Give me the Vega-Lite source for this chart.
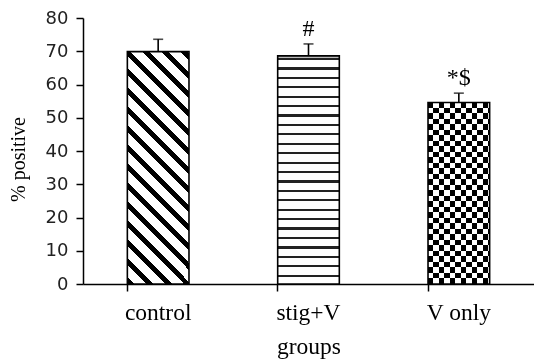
{
  "$schema": "https://vega.github.io/schema/vega-lite/v6.json",
  "width": 451,
  "height": 266,
  "autosize": "none",
  "padding": {"left": 83, "top": 18, "right": 0, "bottom": 75},
  "background": "white",
  "config": {
    "view": {"stroke": null},
    "axis": {"grid": false, "domainColor": "#000", "domainWidth": 1.5, "tickColor": "#000", "tickWidth": 1.5, "tickSize": 7, "titleFontWeight": "normal", "titleColor": "#000"},
    "axisY": {
      "tickCount": 8, "labelOverlap": false,
      "labelFont": "DejaVu Sans", "labelFontSize": 18, "labelColor": "#222", "labelPadding": 8,
      "titleFont": "Liberation Serif", "titleFontSize": 20,
      "titleX": -65, "titleY": 141, "titleAngle": -90, "titleBaseline": "middle", "titleAlign": "center"
    },
    "axisX": {
      "labelAngle": 0, "bandPosition": 0,
      "labelFont": "Liberation Serif", "labelFontSize": 23.5, "labelColor": "#000", "labelPadding": 9,
      "titleFont": "Liberation Serif", "titleFontSize": 23.5, "titleY": 50, "titleBaseline": "top"
    }
  },
  "data": {"values": [
    {"group": "control", "value": 69.9, "upper": 73.6, "sig": ""},
    {"group": "stig+V", "value": 68.6, "upper": 72.2, "sig": "#"},
    {"group": "V only", "value": 54.6, "upper": 57.4, "sig": "*$"}
  ]},
  "encoding": {
    "x": {
      "field": "group", "type": "nominal", "sort": null, "title": "groups",
      "scale": {"paddingInner": 0.59, "paddingOuter": 0.295}
    }
  },
  "layer": [
    {
      "transform": [{"filter": "datum.group == 'control'"}],
      "mark": {"type": "bar", "fill": {"gradient": "linear", "x1": 0, "y1": 1, "x2": 0.3161, "y2": -0.1828, "stops": [
        {"offset": 0, "color": "#000"}, {"offset": 0.0238, "color": "#000"}, {"offset": 0.0238, "color": "#fff"}, {"offset": 0.0646, "color": "#fff"},
        {"offset": 0.0646, "color": "#000"}, {"offset": 0.0884, "color": "#000"}, {"offset": 0.0884, "color": "#fff"}, {"offset": 0.1292, "color": "#fff"},
        {"offset": 0.1292, "color": "#000"}, {"offset": 0.1530, "color": "#000"}, {"offset": 0.1530, "color": "#fff"}, {"offset": 0.1938, "color": "#fff"},
        {"offset": 0.1938, "color": "#000"}, {"offset": 0.2176, "color": "#000"}, {"offset": 0.2176, "color": "#fff"}, {"offset": 0.2584, "color": "#fff"},
        {"offset": 0.2584, "color": "#000"}, {"offset": 0.2822, "color": "#000"}, {"offset": 0.2822, "color": "#fff"}, {"offset": 0.3230, "color": "#fff"},
        {"offset": 0.3230, "color": "#000"}, {"offset": 0.3468, "color": "#000"}, {"offset": 0.3468, "color": "#fff"}, {"offset": 0.3876, "color": "#fff"},
        {"offset": 0.3876, "color": "#000"}, {"offset": 0.4114, "color": "#000"}, {"offset": 0.4114, "color": "#fff"}, {"offset": 0.4522, "color": "#fff"},
        {"offset": 0.4522, "color": "#000"}, {"offset": 0.4760, "color": "#000"}, {"offset": 0.4760, "color": "#fff"}, {"offset": 0.5168, "color": "#fff"},
        {"offset": 0.5168, "color": "#000"}, {"offset": 0.5406, "color": "#000"}, {"offset": 0.5406, "color": "#fff"}, {"offset": 0.5814, "color": "#fff"},
        {"offset": 0.5814, "color": "#000"}, {"offset": 0.6052, "color": "#000"}, {"offset": 0.6052, "color": "#fff"}, {"offset": 0.6460, "color": "#fff"},
        {"offset": 0.6460, "color": "#000"}, {"offset": 0.6698, "color": "#000"}, {"offset": 0.6698, "color": "#fff"}, {"offset": 0.7106, "color": "#fff"},
        {"offset": 0.7106, "color": "#000"}, {"offset": 0.7344, "color": "#000"}, {"offset": 0.7344, "color": "#fff"}, {"offset": 0.7752, "color": "#fff"},
        {"offset": 0.7752, "color": "#000"}, {"offset": 0.7990, "color": "#000"}, {"offset": 0.7990, "color": "#fff"}, {"offset": 0.8398, "color": "#fff"},
        {"offset": 0.8398, "color": "#000"}, {"offset": 0.8636, "color": "#000"}, {"offset": 0.8636, "color": "#fff"}, {"offset": 0.9044, "color": "#fff"},
        {"offset": 0.9044, "color": "#000"}, {"offset": 0.9282, "color": "#000"}, {"offset": 0.9282, "color": "#fff"}, {"offset": 0.9690, "color": "#fff"},
        {"offset": 0.9690, "color": "#000"}, {"offset": 0.9928, "color": "#000"}, {"offset": 0.9928, "color": "#fff"}, {"offset": 1, "color": "#fff"}
      ]}},
      "encoding": {
        "y": {"field": "value", "type": "quantitative", "title": "% positive", "scale": {"domain": [0, 80]}}
      }
    },
    {
      "transform": [{"filter": "datum.group == 'stig+V'"}],
      "mark": {"type": "bar", "fill": {"gradient": "linear", "x1": 0, "y1": 0, "x2": 0, "y2": 1, "stops": [
        {"offset": 0, "color": "#bbb"}, {"offset": 0.0088, "color": "#bbb"}, {"offset": 0.0088, "color": "#222"}, {"offset": 0.0184, "color": "#222"},
        {"offset": 0.0184, "color": "#fff"}, {"offset": 0.0501, "color": "#fff"}, {"offset": 0.0501, "color": "#222"}, {"offset": 0.0597, "color": "#222"},
        {"offset": 0.0597, "color": "#fff"}, {"offset": 0.0914, "color": "#fff"}, {"offset": 0.0914, "color": "#222"}, {"offset": 0.1010, "color": "#222"},
        {"offset": 0.1010, "color": "#fff"}, {"offset": 0.1327, "color": "#fff"}, {"offset": 0.1327, "color": "#222"}, {"offset": 0.1423, "color": "#222"},
        {"offset": 0.1423, "color": "#fff"}, {"offset": 0.1740, "color": "#fff"}, {"offset": 0.1740, "color": "#222"}, {"offset": 0.1836, "color": "#222"},
        {"offset": 0.1836, "color": "#fff"}, {"offset": 0.2153, "color": "#fff"}, {"offset": 0.2153, "color": "#222"}, {"offset": 0.2249, "color": "#222"},
        {"offset": 0.2249, "color": "#fff"}, {"offset": 0.2566, "color": "#fff"}, {"offset": 0.2566, "color": "#222"}, {"offset": 0.2662, "color": "#222"},
        {"offset": 0.2662, "color": "#fff"}, {"offset": 0.2979, "color": "#fff"}, {"offset": 0.2979, "color": "#222"}, {"offset": 0.3075, "color": "#222"},
        {"offset": 0.3075, "color": "#fff"}, {"offset": 0.3392, "color": "#fff"}, {"offset": 0.3392, "color": "#222"}, {"offset": 0.3488, "color": "#222"},
        {"offset": 0.3488, "color": "#fff"}, {"offset": 0.3805, "color": "#fff"}, {"offset": 0.3805, "color": "#222"}, {"offset": 0.3901, "color": "#222"},
        {"offset": 0.3901, "color": "#fff"}, {"offset": 0.4218, "color": "#fff"}, {"offset": 0.4218, "color": "#222"}, {"offset": 0.4314, "color": "#222"},
        {"offset": 0.4314, "color": "#fff"}, {"offset": 0.4630, "color": "#fff"}, {"offset": 0.4630, "color": "#222"}, {"offset": 0.4727, "color": "#222"},
        {"offset": 0.4727, "color": "#fff"}, {"offset": 0.5043, "color": "#fff"}, {"offset": 0.5043, "color": "#222"}, {"offset": 0.5140, "color": "#222"},
        {"offset": 0.5140, "color": "#fff"}, {"offset": 0.5456, "color": "#fff"}, {"offset": 0.5456, "color": "#222"}, {"offset": 0.5553, "color": "#222"},
        {"offset": 0.5553, "color": "#fff"}, {"offset": 0.5869, "color": "#fff"}, {"offset": 0.5869, "color": "#222"}, {"offset": 0.5966, "color": "#222"},
        {"offset": 0.5966, "color": "#fff"}, {"offset": 0.6282, "color": "#fff"}, {"offset": 0.6282, "color": "#222"}, {"offset": 0.6379, "color": "#222"},
        {"offset": 0.6379, "color": "#fff"}, {"offset": 0.6695, "color": "#fff"}, {"offset": 0.6695, "color": "#222"}, {"offset": 0.6792, "color": "#222"},
        {"offset": 0.6792, "color": "#fff"}, {"offset": 0.7108, "color": "#fff"}, {"offset": 0.7108, "color": "#222"}, {"offset": 0.7205, "color": "#222"},
        {"offset": 0.7205, "color": "#fff"}, {"offset": 0.7521, "color": "#fff"}, {"offset": 0.7521, "color": "#222"}, {"offset": 0.7618, "color": "#222"},
        {"offset": 0.7618, "color": "#fff"}, {"offset": 0.7934, "color": "#fff"}, {"offset": 0.7934, "color": "#222"}, {"offset": 0.8031, "color": "#222"},
        {"offset": 0.8031, "color": "#fff"}, {"offset": 0.8347, "color": "#fff"}, {"offset": 0.8347, "color": "#222"}, {"offset": 0.8444, "color": "#222"},
        {"offset": 0.8444, "color": "#fff"}, {"offset": 0.8760, "color": "#fff"}, {"offset": 0.8760, "color": "#222"}, {"offset": 0.8857, "color": "#222"},
        {"offset": 0.8857, "color": "#fff"}, {"offset": 0.9173, "color": "#fff"}, {"offset": 0.9173, "color": "#222"}, {"offset": 0.9270, "color": "#222"},
        {"offset": 0.9270, "color": "#fff"}, {"offset": 0.9586, "color": "#fff"}, {"offset": 0.9586, "color": "#222"}, {"offset": 0.9683, "color": "#222"},
        {"offset": 0.9683, "color": "#fff"}, {"offset": 1, "color": "#fff"}
      ]}},
      "encoding": {"y": {"field": "value", "type": "quantitative", "title": "% positive"}}
    },
    {
      "transform": [{"filter": "datum.group == 'V only'"}],
      "mark": {"type": "bar", "fill": {"gradient": "linear", "x1": 0, "y1": 0, "x2": 1, "y2": 0, "stops": [
        {"offset": 0, "color": "#000"}, {"offset": 0.0889, "color": "#000"}, {"offset": 0.0889, "color": "#fff"}, {"offset": 0.1777, "color": "#fff"},
        {"offset": 0.1777, "color": "#000"}, {"offset": 0.2666, "color": "#000"}, {"offset": 0.2666, "color": "#fff"}, {"offset": 0.3554, "color": "#fff"},
        {"offset": 0.3554, "color": "#000"}, {"offset": 0.4443, "color": "#000"}, {"offset": 0.4443, "color": "#fff"}, {"offset": 0.5331, "color": "#fff"},
        {"offset": 0.5331, "color": "#000"}, {"offset": 0.6220, "color": "#000"}, {"offset": 0.6220, "color": "#fff"}, {"offset": 0.7108, "color": "#fff"},
        {"offset": 0.7108, "color": "#000"}, {"offset": 0.7997, "color": "#000"}, {"offset": 0.7997, "color": "#fff"}, {"offset": 0.8885, "color": "#fff"},
        {"offset": 0.8885, "color": "#000"}, {"offset": 0.9774, "color": "#000"}, {"offset": 0.9774, "color": "#fff"}, {"offset": 1, "color": "#fff"}
      ]}},
      "encoding": {"y": {"field": "value", "type": "quantitative", "title": "% positive"}}
    },
    {
      "transform": [{"filter": "datum.group == 'V only'"}],
      "mark": {"type": "bar", "blend": "difference", "fill": {"gradient": "linear", "x1": 0, "y1": 0, "x2": 0, "y2": 1, "stops": [
        {"offset": 0, "color": "#000"}, {"offset": 0.0303, "color": "#000"}, {"offset": 0.0303, "color": "#fff"}, {"offset": 0.0606, "color": "#fff"},
        {"offset": 0.0606, "color": "#000"}, {"offset": 0.0909, "color": "#000"}, {"offset": 0.0909, "color": "#fff"}, {"offset": 0.1212, "color": "#fff"},
        {"offset": 0.1212, "color": "#000"}, {"offset": 0.1515, "color": "#000"}, {"offset": 0.1515, "color": "#fff"}, {"offset": 0.1818, "color": "#fff"},
        {"offset": 0.1818, "color": "#000"}, {"offset": 0.2121, "color": "#000"}, {"offset": 0.2121, "color": "#fff"}, {"offset": 0.2424, "color": "#fff"},
        {"offset": 0.2424, "color": "#000"}, {"offset": 0.2727, "color": "#000"}, {"offset": 0.2727, "color": "#fff"}, {"offset": 0.3030, "color": "#fff"},
        {"offset": 0.3030, "color": "#000"}, {"offset": 0.3333, "color": "#000"}, {"offset": 0.3333, "color": "#fff"}, {"offset": 0.3636, "color": "#fff"},
        {"offset": 0.3636, "color": "#000"}, {"offset": 0.3939, "color": "#000"}, {"offset": 0.3939, "color": "#fff"}, {"offset": 0.4242, "color": "#fff"},
        {"offset": 0.4242, "color": "#000"}, {"offset": 0.4545, "color": "#000"}, {"offset": 0.4545, "color": "#fff"}, {"offset": 0.4848, "color": "#fff"},
        {"offset": 0.4848, "color": "#000"}, {"offset": 0.5152, "color": "#000"}, {"offset": 0.5152, "color": "#fff"}, {"offset": 0.5455, "color": "#fff"},
        {"offset": 0.5455, "color": "#000"}, {"offset": 0.5758, "color": "#000"}, {"offset": 0.5758, "color": "#fff"}, {"offset": 0.6061, "color": "#fff"},
        {"offset": 0.6061, "color": "#000"}, {"offset": 0.6364, "color": "#000"}, {"offset": 0.6364, "color": "#fff"}, {"offset": 0.6667, "color": "#fff"},
        {"offset": 0.6667, "color": "#000"}, {"offset": 0.6970, "color": "#000"}, {"offset": 0.6970, "color": "#fff"}, {"offset": 0.7273, "color": "#fff"},
        {"offset": 0.7273, "color": "#000"}, {"offset": 0.7576, "color": "#000"}, {"offset": 0.7576, "color": "#fff"}, {"offset": 0.7879, "color": "#fff"},
        {"offset": 0.7879, "color": "#000"}, {"offset": 0.8182, "color": "#000"}, {"offset": 0.8182, "color": "#fff"}, {"offset": 0.8485, "color": "#fff"},
        {"offset": 0.8485, "color": "#000"}, {"offset": 0.8788, "color": "#000"}, {"offset": 0.8788, "color": "#fff"}, {"offset": 0.9091, "color": "#fff"},
        {"offset": 0.9091, "color": "#000"}, {"offset": 0.9394, "color": "#000"}, {"offset": 0.9394, "color": "#fff"}, {"offset": 0.9697, "color": "#fff"},
        {"offset": 0.9697, "color": "#000"}, {"offset": 1, "color": "#000"}
      ]}},
      "encoding": {"y": {"field": "value", "type": "quantitative", "title": "% positive"}}
    },
    {
      "mark": {"type": "bar", "fillOpacity": 0, "stroke": "#000", "strokeWidth": 1.6},
      "encoding": {"y": {"field": "value", "type": "quantitative", "title": "% positive"}}
    },
    {
      "mark": {"type": "rule", "color": "#000", "strokeWidth": 1.6},
      "encoding": {
        "y": {"field": "value", "type": "quantitative", "title": "% positive"},
        "y2": {"field": "upper"}
      }
    },
    {
      "mark": {"type": "tick", "color": "#000", "thickness": 1.6, "size": 10},
      "encoding": {"y": {"field": "upper", "type": "quantitative", "title": "% positive"}}
    },
    {
      "mark": {"type": "text", "font": "Liberation Serif", "fontSize": 24, "baseline": "alphabetic", "dy": -8, "color": "#000"},
      "encoding": {
        "y": {"field": "upper", "type": "quantitative", "title": "% positive"},
        "text": {"field": "sig"}
      }
    }
  ]
}
